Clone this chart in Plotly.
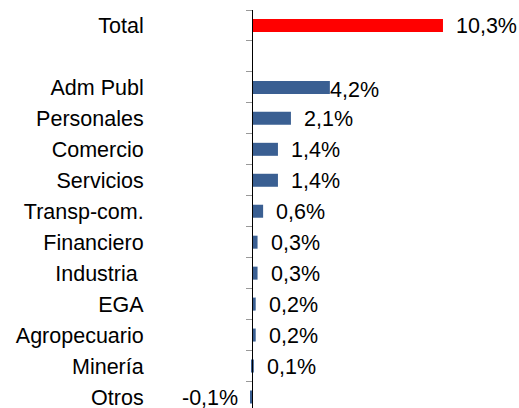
import plotly.graph_objects as go

# sectores (el hueco en blanco separa el total del resto)
sectores = ["Total", " ", "Adm Publ", "Personales", "Comercio", "Servicios",
            "Transp-com.", "Financiero", "Industria\u00a0", "EGA", "Agropecuario",
            "Minería", "Otros"]
valores = [10.3, None, 4.2, 2.1, 1.4, 1.4, 0.6, 0.3, 0.3, 0.2, 0.2, 0.1, -0.1]
colores = ["#FF0000", "#FF0000"] + ["#3A5F92"] * 11

fig = go.Figure()
fig.add_trace(go.Bar(x=valores, y=sectores, orientation="h", marker_color=colores,
                     marker_line_width=0, width=0.42, hoverinfo="skip"))

for s, v in zip(sectores, valores):
    if v is None:
        continue
    txt = f"{v:.1f}".replace(".", ",") + "%"
    if v < 0:
        fig.add_annotation(x=v, y=s, text=txt, showarrow=False, xanchor="right", xshift=-10, yshift=-1)
    elif s == "Adm Publ":
        fig.add_annotation(x=v, y=s, text=txt, showarrow=False, xanchor="left", xshift=-2, yshift=-3)
    else:
        fig.add_annotation(x=v, y=s, text=txt, showarrow=False, xanchor="left", xshift=11, yshift=-1)

fig.update_layout(
    width=519, height=408,
    margin=dict(l=0, r=0, t=10, b=0),
    paper_bgcolor="white", plot_bgcolor="white",
    font=dict(family="Liberation Sans, Arial", size=21.5, color="black"),
    showlegend=False,
    bargap=0.5,
)
fig.update_xaxes(range=[-13.59, 14.40], visible=False, showgrid=False, zeroline=False)
fig.update_yaxes(type="category", categoryorder="array", categoryarray=sectores,
                 range=[12.356, -0.5], anchor="free", position=252 / 519,
                 showline=True, linecolor="black", linewidth=1,
                 ticks="outside", tickson="boundaries", ticklen=6, tickcolor="#999999",
                 ticklabelstandoff=104, showgrid=False, zeroline=False, automargin=False)

fig.write_html("out.html", config={"displayModeBar": False},
               post_script="document.body.style.margin='0';")
